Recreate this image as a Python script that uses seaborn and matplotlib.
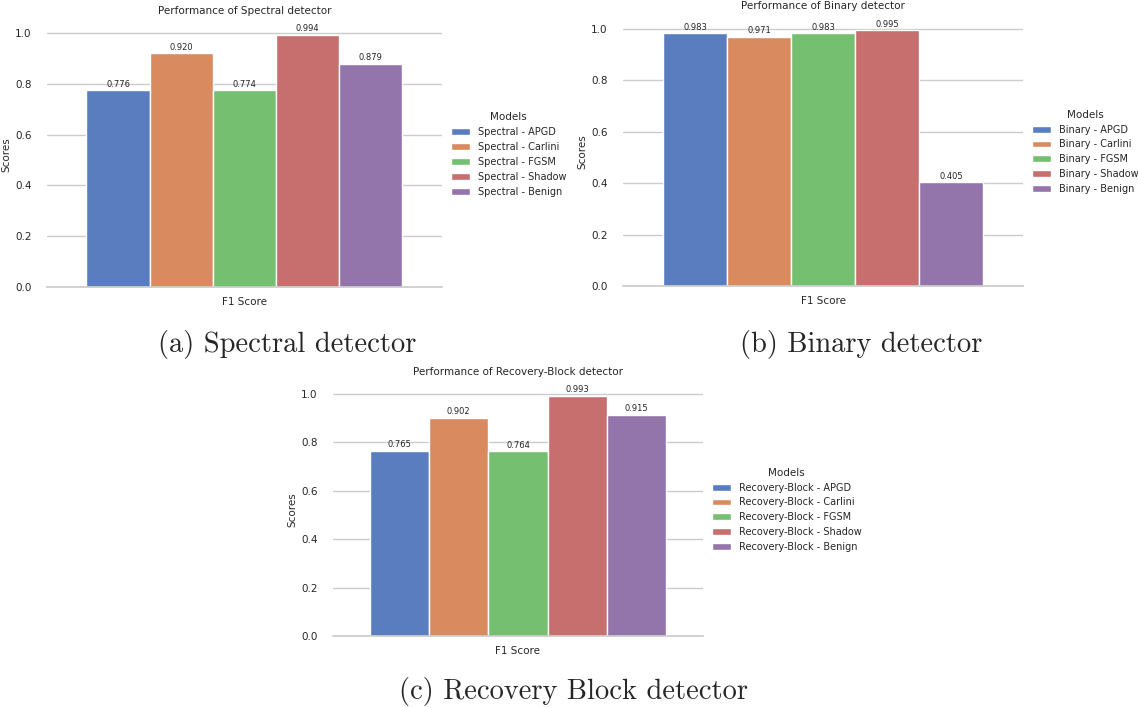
import pandas as pd
import seaborn as sns
import matplotlib.pyplot as plt

# F1 scores per detector
attacks = ['APGD', 'Carlini', 'FGSM', 'Shadow', 'Benign']
spectral_f1 = [0.776, 0.920, 0.774, 0.994, 0.879]
binary_f1 = [0.983, 0.971, 0.983, 0.995, 0.405]
recovery_f1 = [0.765, 0.902, 0.764, 0.993, 0.915]

detectors = ['Spectral', 'Binary', 'Recovery-Block']
captions = ['(a) Spectral detector', '(b) Binary detector', '(c) Recovery Block detector']
metric = 'F1 Score'

sns.set_theme(style='whitegrid', palette='muted')

fig = plt.figure(figsize=(11.38, 7.08), dpi=100)

# axes positions (fig fraction), tuned by hand
rects = [
    [0.0413, 0.5946, 0.3471, 0.3743],
    [0.5475, 0.5960, 0.3515, 0.3792],
    [0.2926, 0.1017, 0.3251, 0.3564],
]
cap_pos = [(0.252, 0.513), (0.757, 0.513), (0.504, 0.024)]

for name, scores, rect, cap, cp in zip(detectors, [spectral_f1, binary_f1, recovery_f1],
                                       rects, captions, cap_pos):
    df = pd.DataFrame({
        'Metric': metric,
        'Score': scores,
        'Model': [f'{name} - {a}' for a in attacks],
    })
    ax = fig.add_axes(rect)
    sns.barplot(data=df, x='Metric', y='Score', hue='Model', ax=ax,
                palette='muted', edgecolor='white', linewidth=1)
    for c in ax.containers:
        ax.bar_label(c, fmt='%.3f', fontsize=6, padding=1)
    ax.set_title(f'Performance of {name} detector', fontsize=7.5)
    ax.set_xlabel('')
    ax.set_ylabel('Scores', fontsize=7.5, labelpad=3)
    ax.tick_params(axis='x', labelsize=7.5, pad=1)
    ax.tick_params(axis='y', labelsize=7.5, pad=5)
    ax.legend(title='Models', loc='center left', bbox_to_anchor=(1.0, 0.5),
              frameon=False, fontsize=7, title_fontsize=7.5)
    sns.despine(ax=ax, left=True)
    fig.text(cp[0], cp[1], cap, ha='center', va='center', fontsize=20.5,
             family='cmr10')

fig.savefig('out.png', dpi=100)
